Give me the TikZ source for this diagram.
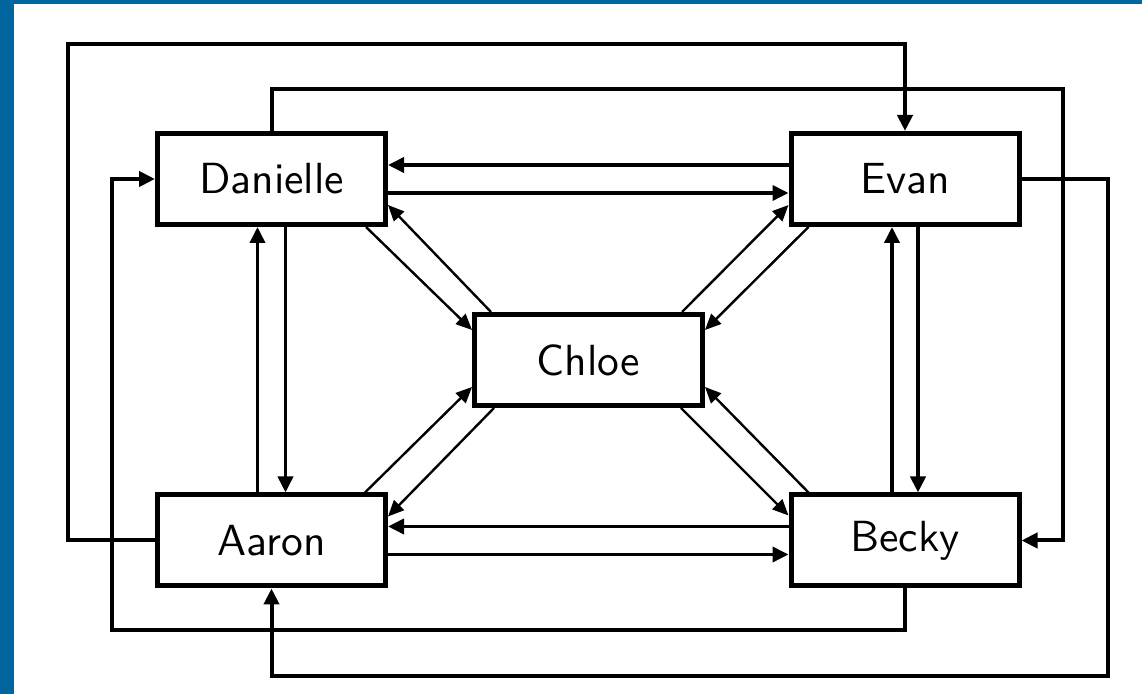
\documentclass[tikz,border=0pt]{standalone}
\usepackage{fontspec}
\newfontfamily\labelfont{lmsans10-regular.otf}
\usetikzlibrary{arrows.meta}
\definecolor{frameblue}{RGB}{1,102,157}
\begin{document}
\begin{tikzpicture}[x=0.5pt,y=0.5pt,
  person/.style={draw,line width=2.5pt,minimum width=114pt,minimum height=45.5pt,inner sep=0pt,
    font=\labelfont\fontsize{21.8}{26}\selectfont},
  tip/.style={-{Triangle[length=8pt,width=7.5pt]}},
  outer/.style={tip,line width=2pt},
  pair/.style={tip,line width=1.8pt},
  diag/.style={-{Triangle[length=8pt,width=7pt]},line width=1.2pt}]
\useasboundingbox (0,0) rectangle (1142,-694);
\fill[frameblue] (0,0) rectangle (14,-694);
\fill[frameblue] (0,0) rectangle (1142,-4);

\node[person] (D) at (271.5,-179) {Danielle};
\node[person] (E) at (905,-179) {Evan};
\node[person] (C) at (588.5,-360) {Chloe};
\node[person] (A) at (271.5,-540.5) {Aaron};
\node[person] (B) at (905,-540.5) {Becky};

\coordinate (k1) at (68,-44);
\coordinate (k2) at (1063,-89);
\coordinate (k3) at (1108,-676);
\coordinate (k4) at (112,-630);

% outer loops
\draw[outer] (A.west) -| (k1) -| (E.north);
\draw[outer] (D.north) |- (k2) |- (B.east);
\draw[outer] (E.east) -| (k3) -| (A.south);
\draw[outer] (B.south) |- (k4) |- (D.west);

% horizontal pairs
\draw[pair] ([yshift=7pt]E.west) -- ([yshift=7pt]D.east);
\draw[pair] ([yshift=-7pt]D.east) -- ([yshift=-7pt]E.west);
\draw[pair] ([yshift=7pt]B.west) -- ([yshift=7pt]A.east);
\draw[pair] ([yshift=-7pt]A.east) -- ([yshift=-7pt]B.west);

% vertical pairs
\draw[pair] ([xshift=-7pt]A.north) -- ([xshift=-7pt]D.south);
\draw[pair] ([xshift=7pt]D.south) -- ([xshift=7pt]A.north);
\draw[pair] ([xshift=-6.5pt]B.north) -- ([xshift=-6.5pt]E.south);
\draw[pair,line width=2.2pt] ([xshift=6.5pt]E.south) -- ([xshift=6.5pt]B.north);

% diagonals
\draw[diag] ([xshift=-11pt]D.south east) -- ([yshift=-9pt]C.north west);
\draw[diag] ([xshift=9.5pt]C.north west) -- ([yshift=11pt]D.south east);
\draw[diag] ([xshift=-11.5pt]C.north east) -- ([yshift=11pt]E.south west);
\draw[diag] ([xshift=10pt]E.south west) -- ([yshift=-9pt]C.north east);
\draw[diag] ([xshift=-11.5pt]A.north east) -- ([yshift=10.5pt]C.south west);
\draw[diag] ([xshift=11pt]C.south west) -- ([yshift=-12pt]A.north east);
\draw[diag] ([xshift=-12pt]C.south east) -- ([yshift=-11.5pt]B.north west);
\draw[diag] ([xshift=10pt]B.north west) -- ([yshift=10.5pt]C.south east);
\end{tikzpicture}
\end{document}
